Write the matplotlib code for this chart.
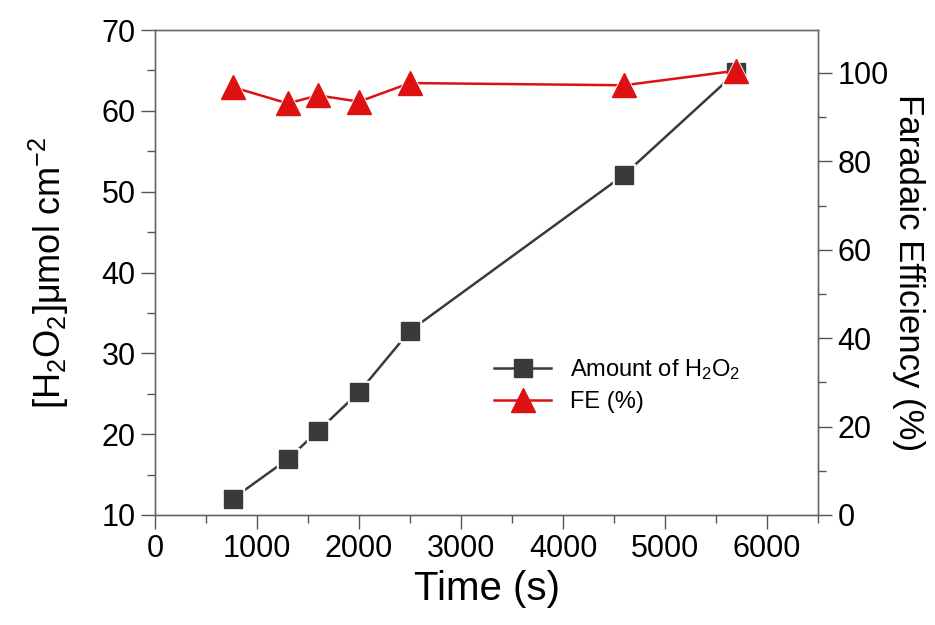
import matplotlib.pyplot as plt
from matplotlib.ticker import MultipleLocator
from matplotlib.lines import Line2D

plt.rcParams['font.family'] = ['Liberation Sans', 'DejaVu Sans']
plt.rcParams['mathtext.default'] = 'regular'

time_s = [760, 1300, 1600, 2000, 2500, 4600, 5700]
h2o2 = [12.0, 16.9, 20.4, 25.2, 32.8, 52.1, 64.8]
fe = [96.8, 93.1, 94.9, 93.5, 97.7, 97.2, 100.5]

black = '#3a3a3a'
red = '#dd1111'

fig = plt.figure(figsize=(9.35, 6.25), dpi=100)
ax = fig.add_axes([155/935, 110/625, 663/935, 485/625])
ax2 = ax.twinx()

# lines with white halo under markers to mimic the gaps
ax.plot(time_s, h2o2, '-', color=black, lw=1.8, zorder=2)
ax.plot(time_s, h2o2, 's', ms=16, color='white', zorder=3)
ax.plot(time_s, h2o2, 's', ms=13, color=black, zorder=4)
ax2.plot(time_s, fe, '-', color=red, lw=1.8, zorder=2)
ax2.plot(time_s, fe, '^', ms=20, color='white', zorder=3)
ax2.plot(time_s, fe, '^', ms=17, color=red, zorder=4)

ax.set_xlim(0, 6500)
ax.set_ylim(10, 70)
ax2.set_ylim(0, 109.7)

ax.xaxis.set_major_locator(MultipleLocator(1000))
ax.xaxis.set_minor_locator(MultipleLocator(500))
ax.yaxis.set_major_locator(MultipleLocator(10))
ax.yaxis.set_minor_locator(MultipleLocator(5))
ax2.yaxis.set_major_locator(MultipleLocator(20))
ax2.yaxis.set_minor_locator(MultipleLocator(10))

for a in (ax, ax2):
    a.tick_params(which='major', direction='out', length=10, width=1, color='#555', labelsize=22, pad=4)
    a.tick_params(which='minor', direction='out', length=6, width=1, color='#555')
    for s in a.spines.values():
        s.set_color('#666')
        s.set_linewidth(1)

ax.set_xlabel('Time (s)', fontsize=29, labelpad=4)
ax.set_ylabel('[H$_2$O$_2$]μmol cm$^{-2}$', fontsize=26, labelpad=22)
ax2.set_ylabel('Faradaic Efficiency (%)', fontsize=25, rotation=270, labelpad=26)

handles = [Line2D([], [], color=black, marker='s', ms=13, lw=1.8),
           Line2D([], [], color=red, marker='^', ms=17, lw=1.8)]
ax.legend(handles, ['Amount of H$_2$O$_2$', 'FE (%)'], loc='upper left',
          bbox_to_anchor=(0.48, 0.37), frameon=False, fontsize=17,
          handlelength=2.4, handletextpad=0.8, labelspacing=0.4)

fig.savefig('out.png', dpi=100)
